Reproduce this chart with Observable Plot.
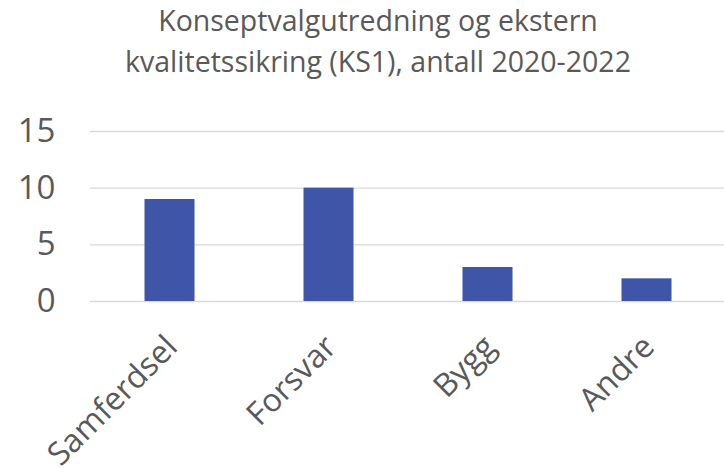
<!DOCTYPE html>
<html>
<head>
<meta charset="utf-8">
<script src="https://cdn.jsdelivr.net/npm/d3@7"></script>
<script src="https://cdn.jsdelivr.net/npm/@observablehq/plot@0.6"></script>
<style>
  html, body { margin: 0; padding: 0; background: #fff; }
  #wrap { position: relative; width: 724px; height: 468px; font-family: "Open Sans", sans-serif; }
  #title { position: absolute; left: 0; top: 0px; width: 724px; box-sizing: border-box; padding-left: 32px;
           text-align: center; font-size: 28.5px; line-height: 41px; color: #595959; white-space: nowrap; }
  #chart { position: absolute; left: 0; top: 100px; }
</style>
</head>
<body>
<div id="wrap">
  <div id="title">Konseptvalgutredning og ekstern<br>kvalitetssikring (KS1), antall 2020-2022</div>
  <div id="chart"></div>
</div>
<script>
const categories = ["Samferdsel", "Forsvar", "Bygg", "Andre"];
const values = [9, 10, 3, 2];
const yTicks = [0, 5, 10, 15];

const data = categories.map((c, i) => ({category: c, value: values[i]}));

const chart = Plot.plot({
  width: 724,
  height: 368,
  marginTop: 31,
  marginBottom: 167,
  marginLeft: 90,
  marginRight: 0,
  style: {fontFamily: "Open Sans, sans-serif", fontSize: "33px", color: "#595959", background: "#fff"},
  x: {domain: categories, range: [90, 726], padding: 0, label: null},
  y: {domain: [0, 15], ticks: yTicks, label: null},
  marks: [
    Plot.ruleY(yTicks, {stroke: "#d9d9d9", strokeWidth: 1.4}),
    Plot.barY(data, {x: "category", y: "value", fill: "#3F55A7", insetLeft: 54.5, insetRight: 54.5}),
    Plot.axisY({ticks: yTicks, tickSize: 0, tickPadding: 35, fill: "#595959", fontSize: 33, label: null}),
    Plot.axisX({tickSize: 0, tickRotate: -45, tickPadding: 40, dx: 2, fill: "#595959", fontSize: 32, label: null})
  ]
});
document.getElementById("chart").appendChild(chart);
</script>
</body>
</html>
